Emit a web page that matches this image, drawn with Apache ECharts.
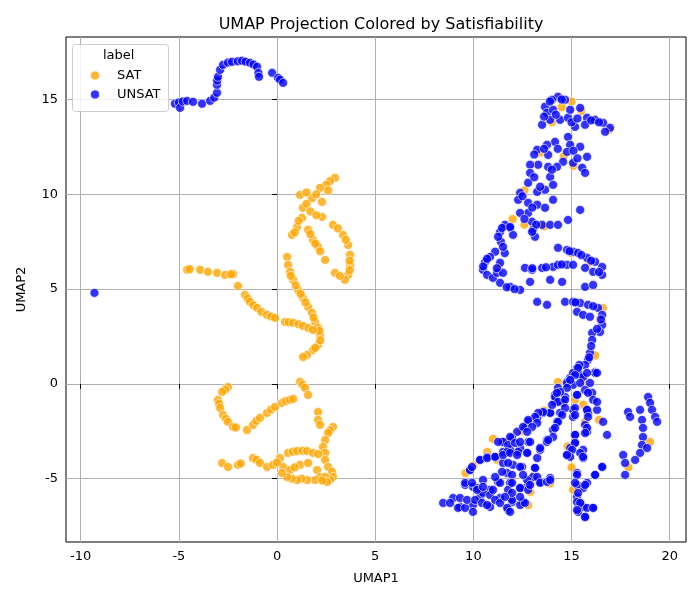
<!DOCTYPE html>
<html>
<head>
<meta charset="utf-8">
<script src="https://cdn.jsdelivr.net/npm/echarts@6/dist/echarts.min.js"></script>
<style>
  html, body { margin: 0; padding: 0; background: #fff; }
  #chart { width: 700px; height: 600px; }
</style>
</head>
<body>
<div id="chart"></div>
<script>
// 刻度
var xTicks = [-10, -5, 0, 5, 10, 15, 20];
var yTicks = [-5, 0, 5, 10, 15];

// SAT 点
var satUpper = [
    [2.95,10.87],[2.7,10.7],[2.5,10.5],[2.19,10.34],[1.17,9.97],[1.78,9.8],[2.29,9.6],[1.32,9.29],
    [1.27,8.76],[1.02,8.28],[0.76,7.86],[1.58,8.13],[1.83,7.6],[2.09,7.23],[2.45,6.54],[2.29,8.81],
    [2.85,8.39],[3.36,7.86],[3.62,7.33],[3.72,6.81],[3.72,6.28],[3.62,5.75],[3.46,5.49],[2.95,5.86],
    [1.5,10.1],[2.0,10.0],[2.6,10.2],[1.5,9.5],[1.7,9.1],[2.0,8.9],[3.1,8.2],[3.5,7.6],[3.7,6.5],
    [3.7,6.0],[3.2,5.7],[1.7,7.9],[1.95,7.4],[2.2,7.0],[1.1,8.6],[0.9,8.0]
];
var satCurve = [
    [0.51,6.70],[0.56,6.28],[0.66,5.91],[0.82,5.49],[1.07,4.96],[1.32,4.54],[1.58,4.06],[1.78,3.75],
    [1.94,3.27],[2.09,2.96],[2.19,2.59],[2.09,2.06],[1.83,1.79],[1.53,1.53],[1.32,1.42],[0.95,5.2],
    [1.2,4.75],[1.45,4.3],[1.86,3.5],[2.15,2.8],[2.2,2.3],[1.95,1.9],[0.7,5.7]
];
var satLeft = [
    [-4.58,6.02],[-4.45,6.05],[-3.92,6.02],[-3.52,5.91],[-3.06,5.86],[-2.65,5.75],[-2.24,5.80],[-2.35,5.78],
    [-1.99,5.17],[-1.63,4.70],[-1.5,4.5],[-1.38,4.33],[-1.2,4.15],[-1.02,4.01],[-0.8,3.8],[-0.51,3.64],
    [-0.3,3.55],[-0.10,3.48],[0.41,3.27],[0.6,3.25],[0.82,3.22],[1.1,3.15],[1.32,3.06],[1.6,2.95],[1.83,2.85]
];
var satLower = [
    [-2.50,-0.16],[-2.65,-0.3],[-2.80,-0.42],[-3.01,-0.84],[-2.95,-1.05],[-2.90,-1.27],[-2.75,-1.64],
    [-2.6,-1.85],[-2.50,-2.0],[-2.24,-2.27],[-2.1,-2.3],
    [-1.53,-2.43],[-1.22,-2.16],[-1.05,-1.95],[-0.87,-1.79],[-0.51,-1.53],[-0.3,-1.35],[-0.10,-1.21],
    [0.25,-1.0],[0.45,-0.9],[0.66,-0.84],[0.82,-0.79],
    [1.17,0.11],[1.3,-0.05],[1.43,-0.21],[1.58,-0.58],
    [2.09,-1.48],[2.09,-1.90],[2.19,-2.16],[2.85,-2.27],[2.7,-2.45],[2.60,-2.59],[2.45,-2.96],[2.34,-3.32],
    [2.45,-3.64],[2.45,-4.01],[2.60,-4.38],[2.80,-4.64],[2.85,-4.91],[2.7,-5.05],
    [0.15,-3.91],[0.56,-3.64],[0.8,-3.58],[1.02,-3.54],[1.3,-3.53],[1.53,-3.54],[1.83,-3.64],[2.1,-3.7],
    [0.31,-4.38],[0.66,-4.54],[1.17,-4.27],[1.58,-4.17],[2.04,-4.54],[2.19,-4.91],[1.94,-5.07],[1.53,-5.07],
    [1.25,-5.0],[1.02,-5.07],[0.75,-5.0],[0.51,-4.91],[0.25,-4.70],[2.45,-4.91],[2.55,-5.17],[2.3,-5.1],[0.9,-4.4],
    [-2.80,-4.17],[-2.50,-4.38],[-1.99,-4.27],[-1.85,-4.2],[-1.22,-3.91],[-1.05,-4.0],[-0.87,-4.17],
    [-0.51,-4.38],[-0.20,-4.27],[0.0,-4.15]
];
var satRight = [
    [15.0,14.9],[14.5,14.6],[14.0,13.8],[16.9,13.4],[15.5,14.4],[13.4,12.2],[14.6,12.0],[15.1,11.5],
    [12.6,10.2],[12.6,8.4],[13.6,8.3],[12.0,8.7],[11.3,6.2],[15.0,6.9],[15.9,6.4],[16.6,4.0],[16.45,3.4],
    [16.2,1.5],[15.6,0.2],[14.3,0.1],[15.18,-0.84],[15.69,-2.0],[13.6,-1.4],[12.4,-2.5],[10.70,-3.59],
    [9.6,-4.7],[12.79,-6.39],[15.08,-5.59],[19.0,-3.06],[17.9,-4.4],[13.1,-4.8],[11.2,-4.0],
    [15.6,-1.1],[14.8,-3.3],[11.0,-2.9],[12.9,-5.7],[15.0,-4.4],[13.9,-5.25],[10.0,-4.3],[16.4,-1.9]
];

// UNSAT 点
var unsatTopLeft = [
    [-5.20,14.78],[-5.0,14.85],[-4.94,14.56],[-4.8,14.9],[-4.58,14.93],[-4.28,14.88],[-3.82,14.78],
    [-3.41,14.93],[-3.2,15.1],[-3.06,15.36],[-3.06,15.78],[-3.05,16.0],[-3.01,16.2],[-2.90,16.57],
    [-2.75,16.83],[-2.5,16.95],[-2.29,16.99],[-2.0,17.02],[-1.78,17.05],[-1.6,17.0],[-1.38,16.94],
    [-1.2,16.85],[-1.02,16.73],[-0.95,16.4],[-0.92,16.2],[-0.25,16.41],[0.05,16.15],[0.15,16.05],
    [0.31,15.88],[-9.3,4.8]
];
var unsatRightTop = [
    [14.31,15.15],[14.0,14.99],[14.67,14.99],[13.65,14.62],[13.75,14.30],[14.06,14.46],[13.50,13.67],
    [13.91,13.93],[14.42,13.93],[14.82,14.04],[14.93,14.46],[15.44,14.56],[15.79,14.04],[15.69,13.67],
    [15.18,13.56],[16.20,13.93],[16.61,13.77],[16.96,13.51],[16.71,13.30],
    [14.16,12.77],[13.75,12.61],[13.25,12.35],[13.81,12.08],[14.82,13.03],[14.93,12.61],[14.77,12.24],
    [15.44,12.51],[15.79,11.98],[14.57,11.72],[15.08,11.66],[15.54,11.40],[15.69,11.13],[14.26,11.45],
    [13.81,11.45],[13.30,11.56],[12.89,11.56],[12.89,11.13],[12.79,10.61],[13.91,10.92],[14.06,10.50],
    [13.65,10.24],[13.25,10.13],[12.38,10.08],[12.28,9.71],[12.79,9.55],[13.25,9.45],[14.06,9.71],
    [13.65,9.29],[12.79,9.02],[12.38,9.02],[12.99,8.55],[13.50,8.39],[13.91,8.39],[14.31,8.39],
    [14.82,8.65],[15.44,9.18],[11.61,8.39],[11.87,8.23],[11.36,8.02],[13.04,8.13],
    [13.9,14.9],[14.5,15.0],[13.6,14.1],[14.2,14.2],[15.0,13.8],[15.3,14.0],[16.0,13.9],[16.4,13.8],
    [13.1,12.1],[13.6,12.4],[14.3,12.4],[15.1,12.3],[15.3,11.9],[14.0,11.3],[13.1,10.9],[13.4,10.4],
    [12.5,9.9],[13.0,9.3],[12.6,8.7],[13.2,8.4],[11.4,7.5],[11.6,6.9]
];
var unsatRightMid = [
    [11.46,8.23],[11.26,7.76],[11.51,7.23],[11.11,6.97],[10.85,6.70],[10.60,6.44],[10.49,6.02],
    [10.70,5.75],[11.0,5.59],[11.36,5.33],[11.87,5.12],[12.38,4.96],[11.21,5.86],[11.51,5.86],
    [11.36,6.39],[12.02,7.86],[11.87,8.28],[13.14,7.76],[12.99,8.02],
    [12.63,6.12],[12.99,6.02],[13.50,6.12],[14.06,6.17],[14.31,6.28],[14.77,6.28],[15.08,6.28],
    [15.69,6.12],[16.10,5.91],[16.56,5.75],[16.56,6.17],[14.31,7.18],[14.77,7.07],[15.08,6.97],
    [15.33,6.91],[15.79,6.65],[16.20,6.44],[15.69,5.12],[16.10,5.22],[12.89,5.38],[13.91,5.49],[14.52,5.38],
    [13.25,4.33],[13.75,4.17],[14.67,4.33],[15.08,4.33],[15.44,4.27],[15.84,4.17],[16.35,4.01],
    [15.28,3.80],[15.59,3.64],[15.94,3.54],[16.56,3.64],[16.56,3.11],[16.45,2.74],[16.05,2.69],
    [16.05,2.32],[15.94,1.64],[15.84,1.27],[15.69,1.0],[16.20,0.63],[15.28,0.84],[15.44,0.47],
    [14.93,0.32],[14.77,0.11],
    [10.5,6.2],[10.7,6.6],[11.2,6.1],[11.7,5.1],[12.1,5.0],[13.0,6.1],[13.7,6.15],[14.5,6.3],[14.9,7.0],
    [15.5,6.8],[16.0,6.5],[16.4,5.9],[15.2,4.3],[16.1,4.1],[16.5,3.4],[16.3,2.9],[16.0,2.0],[15.9,1.4],[15.4,1.0]
];
var unsatRightLow = [
    [15.08,0.58],[15.59,0.37],[16.20,0.58],[15.08,-0.05],[14.77,0.05],[14.31,-0.21],[14.16,-0.58],
    [14.16,-0.95],[14.67,-0.69],[15.28,-0.58],[15.69,-0.32],[16.05,-0.47],[16.10,-0.84],[16.30,-1.37],
    [16.61,-2.0],[16.81,-2.69],
    [15.08,-1.37],[15.08,-1.74],[15.79,-1.37],[15.84,-1.53],[15.79,-2.53],[15.69,-2.16],[15.18,-2.69],
    [15.18,-3.11],[15.59,-3.48],[15.59,-3.91],[14.77,-3.75],[14.93,-3.38],[16.56,-4.38],[16.20,-4.80],
    [15.79,-5.22],[15.59,-5.49],[15.28,-4.70],[15.28,-5.33],[15.28,-5.96],[15.44,-6.28],[15.33,-6.75],
    [15.69,-7.02],[16.10,-6.54],[15.59,-6.49],
    [14.57,-1.0],[14.42,-1.53],[14.26,-2.0],[14.06,-2.43],[13.75,-2.96],[13.40,-3.48],[13.25,-3.91],
    [13.14,-4.43],[13.04,-4.91],[12.79,-5.33],[12.38,-5.49],[13.91,-4.96],[13.40,-5.17],
    [13.91,-1.53],[13.55,-1.53],[13.25,-1.79],[12.79,-2.0],[12.63,-2.32],[12.23,-2.53],[11.97,-2.85],
    [11.46,-3.06],[11.87,-3.48],[12.38,-3.38],[12.79,-3.06],[11.51,-3.59],[11.11,-3.85],[10.70,-3.85],
    [10.34,-4.01],[9.83,-4.54],[9.58,-5.33],[9.98,-5.43],[10.34,-5.96],[10.85,-5.59],[11.26,-5.17],
    [11.72,-4.70],[11.51,-4.17],[12.02,-4.27],[12.48,-4.38],[11.87,-5.22],[12.74,-5.07],[11.36,-6.02],
    [11.97,-6.23],[12.53,-6.23],[11.77,-6.65],[10.85,-6.49],[8.97,-6.02],[9.32,-6.49],[8.46,-6.28],
    [9.98,-6.39],[10.49,-5.07],[10.19,-5.49]
];
// 右下密集带补充
var unsatBand = [
    [15.33,0.84],[15.18,0.47],[14.93,0.21],[15.44,0.05],[15.94,0.05],[15.79,0.58],[16.30,0.58],
    [14.77,-0.21],[14.42,-0.42],[14.16,-0.69],[14.31,-0.95],[14.67,-0.84],[15.28,-0.58],[15.84,-0.47],
    [16.30,-0.95],[15.18,-1.27],[15.18,-1.64],[15.79,-1.37],[15.84,-1.74],[15.79,-2.32],[15.69,-2.59],
    [15.18,-2.69],[15.18,-3.11],[15.03,-3.48],[15.44,-3.64],
    [14.67,-1.27],[14.52,-1.64],[14.31,-2.0],[14.16,-2.32],[14.06,-2.80],[13.75,-3.06],[13.40,-3.38],[14.93,-3.85],
    [13.91,-1.53],[13.55,-1.48],[13.30,-1.53],[13.14,-1.74],[13.25,-2.06],[12.79,-1.90],[12.53,-2.27],
    [12.99,-2.27],[12.74,-2.53],[14.01,-1.11],[14.26,-0.47],
    [11.87,-2.80],[11.51,-3.06],[11.26,-3.06],[11.77,-3.22],[12.12,-3.11],[12.38,-3.06],[12.89,-3.06],
    [11.72,-3.59],[12.28,-3.59],[12.74,-3.64],[13.81,-2.96],
    [8.81,-6.28],[9.22,-6.54],[9.58,-6.54],[9.98,-6.75],[9.32,-6.02],[9.68,-6.12],[10.09,-6.12],
    [10.44,-6.28],[10.49,-5.75],[10.85,-5.86],[11.11,-6.12],[11.36,-6.28],[11.72,-6.54],[11.87,-6.75],
    [11.97,-6.12],[12.38,-6.39],[12.63,-6.28],[9.58,-5.22],[9.93,-5.22],[10.19,-5.59],[10.49,-5.43],
    [11.0,-5.59],[11.36,-5.22],[11.77,-5.59],[11.97,-5.75],[12.38,-5.49],[12.79,-5.59],[9.83,-4.54],
    [9.93,-4.38],[10.34,-4.01],[10.70,-3.91],[11.11,-3.85],[11.51,-3.75],[11.87,-3.64],[12.23,-3.75],
    [12.74,-3.64],[11.77,-4.17],[11.46,-4.64],[11.11,-4.91],[11.97,-4.80],[12.38,-4.38],[12.53,-4.80],
    [11.97,-5.22],[13.14,-4.43],[13.25,-4.91],[12.89,-5.33],[13.40,-5.22],[13.75,-5.17],[13.91,-5.07],
    [12.38,-5.96],[11.61,-5.96],[10.70,-6.39],
    [14.77,-3.75],[15.59,-3.85],[16.56,-4.38],[16.20,-4.80],[15.28,-4.80],[15.18,-5.22],[15.69,-5.33],
    [15.33,-5.75],[15.28,-6.23],[15.44,-6.28],[15.28,-6.65],[15.79,-6.54],[16.10,-6.54],[15.69,-7.02]
];
var unsatFarRight = [
    [17.88,-1.48],[17.98,-1.74],[18.49,-1.37],[18.59,-1.90],[18.64,-2.32],[18.64,-2.80],[18.59,-3.22],
    [18.49,-3.64],[18.24,-4.01],[17.63,-3.75],[17.73,-4.17],[17.73,-4.80],[18.90,-0.69],[19.0,-1.0],
    [19.10,-1.37],[19.26,-1.74],[19.36,-2.0],[18.85,-3.38]
];

var satData = satUpper.concat(satCurve, satLeft, satLower, satRight);
var unsatData = unsatTopLeft.concat(unsatRightTop, unsatRightMid, unsatRightLow, unsatBand, unsatFarRight);

var myChart = echarts.init(document.getElementById('chart'));

var tickFont = { color: '#000', fontSize: 13, fontFamily: 'DejaVu Sans' };

var option = {
    backgroundColor: '#fff',
    animation: false,
    title: {
        text: 'UMAP Projection Colored by Satisfiability',
        left: 376, top: 12, textAlign: 'center',
        textStyle: { fontSize: 16, fontWeight: 'normal', color: '#000', fontFamily: 'DejaVu Sans' }
    },
    grid: {
        left: 66, right: 14, top: 37, bottom: 58,
        show: true, borderColor: '#000', borderWidth: 1, backgroundColor: 'transparent'
    },
    xAxis: {
        type: 'value', min: -10.75, max: 20.83,
        name: 'UMAP1', nameLocation: 'middle', nameGap: 30,
        nameTextStyle: tickFont,
        axisLine: { show: false },
        axisTick: { show: true, length: 5, customValues: xTicks, lineStyle: { color: '#000' } },
        axisLabel: Object.assign({ customValues: xTicks, margin: 8 }, tickFont),
        splitLine: { show: true, lineStyle: { color: '#b0b0b0', width: 1 } }
    },
    yAxis: {
        type: 'value', min: -8.34, max: 18.3,
        name: 'UMAP2', nameLocation: 'middle', nameGap: 38,
        nameTextStyle: tickFont,
        axisLine: { show: false },
        axisTick: { show: true, length: 5, customValues: yTicks, lineStyle: { color: '#000' } },
        axisLabel: Object.assign({ customValues: yTicks, margin: 8 }, tickFont),
        splitLine: { show: true, lineStyle: { color: '#b0b0b0', width: 1 } }
    },
    legend: {
        orient: 'vertical', left: 84, top: 64, itemGap: 6,
        itemWidth: 10, itemHeight: 10,
        data: [{ name: 'SAT', icon: 'circle' }, { name: 'UNSAT', icon: 'circle' }],
        textStyle: { fontSize: 13, color: '#000', fontFamily: 'DejaVu Sans', padding: [0, 0, 0, 12] }
    },
    graphic: [
        { type: 'rect', left: 72, top: 44, shape: { width: 96, height: 67, r: 3 }, z: 1,
          style: { fill: 'rgba(255,255,255,0.8)', stroke: '#ccc', lineWidth: 1 } },
        { type: 'text', left: 103, top: 49, z: 2,
          style: { text: 'label', fontSize: 13, fill: '#000', fontFamily: 'DejaVu Sans' } }
    ],
    series: [
        { name: 'SAT', type: 'scatter', symbolSize: 9, data: satData,
          itemStyle: { color: '#FFA500', opacity: 0.8, borderColor: '#fff', borderWidth: 0.8 } },
        { name: 'UNSAT', type: 'scatter', symbolSize: 9, data: unsatData,
          itemStyle: { color: '#0000FF', opacity: 0.8, borderColor: '#fff', borderWidth: 0.8 } }
    ]
};

myChart.setOption(option);
</script>
</body>
</html>
